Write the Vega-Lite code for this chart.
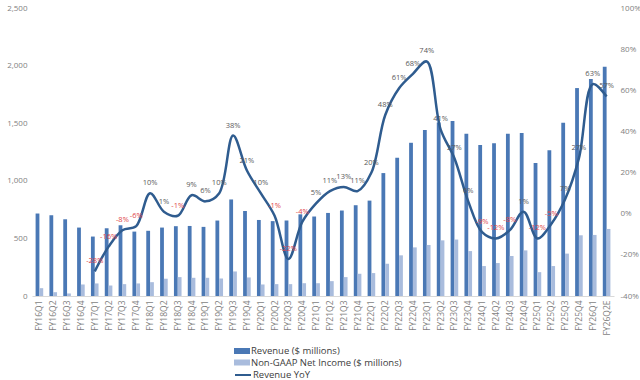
{
  "$schema": "https://vega.github.io/schema/vega-lite/v6.json",
  "width": 582,
  "height": 288,
  "autosize": {"type": "none"},
  "padding": {"left": 32, "top": 8, "right": 26, "bottom": 84},
  "background": "#ffffff",
  "config": {
    "view": {"stroke": null},
    "font": "Open Sans",
    "locale": {"number": {"decimal": ".", "thousands": ",", "grouping": [3], "currency": ["$", ""], "minus": "-", "percent": "%"}},
    "axis": {"labelColor": "#7F7F7F", "labelFontSize": 8, "ticks": false, "grid": false, "title": null}
  },
  "data": {
    "values": [
      {"q": "FY16Q1", "revenue": 716, "income": 68, "yoy": null},
      {"q": "FY16Q2", "revenue": 701, "income": 33, "yoy": null},
      {"q": "FY16Q3", "revenue": 666, "income": 22, "yoy": null},
      {"q": "FY16Q4", "revenue": 594, "income": 100, "yoy": null},
      {"q": "FY17Q1", "revenue": 516, "income": 109, "yoy": -0.28},
      {"q": "FY17Q2", "revenue": 588, "income": 91, "yoy": -0.16},
      {"q": "FY17Q3", "revenue": 614, "income": 103, "yoy": -0.08},
      {"q": "FY17Q4", "revenue": 559, "income": 109, "yoy": -0.06},
      {"q": "FY18Q1", "revenue": 566, "income": 120, "yoy": 0.10},
      {"q": "FY18Q2", "revenue": 594, "income": 150, "yoy": 0.01},
      {"q": "FY18Q3", "revenue": 606, "income": 164, "yoy": -0.01},
      {"q": "FY18Q4", "revenue": 608, "income": 158, "yoy": 0.09},
      {"q": "FY19Q1", "revenue": 600, "income": 158, "yoy": 0.06},
      {"q": "FY19Q2", "revenue": 655, "income": 152, "yoy": 0.10},
      {"q": "FY19Q3", "revenue": 838, "income": 213, "yoy": 0.38},
      {"q": "FY19Q4", "revenue": 738, "income": 161, "yoy": 0.21},
      {"q": "FY20Q1", "revenue": 660, "income": 100, "yoy": 0.10},
      {"q": "FY20Q2", "revenue": 650, "income": 103, "yoy": -0.01},
      {"q": "FY20Q3", "revenue": 656, "income": 103, "yoy": -0.22},
      {"q": "FY20Q4", "revenue": 709, "income": 111, "yoy": -0.04},
      {"q": "FY21Q1", "revenue": 690, "income": 111, "yoy": 0.05},
      {"q": "FY21Q2", "revenue": 721, "income": 129, "yoy": 0.11},
      {"q": "FY21Q3", "revenue": 742, "income": 164, "yoy": 0.13},
      {"q": "FY21Q4", "revenue": 788, "income": 193, "yoy": 0.11},
      {"q": "FY22Q1", "revenue": 828, "income": 199, "yoy": 0.20},
      {"q": "FY22Q2", "revenue": 1067, "income": 280, "yoy": 0.48},
      {"q": "FY22Q3", "revenue": 1200, "income": 353, "yoy": 0.61},
      {"q": "FY22Q4", "revenue": 1330, "income": 422, "yoy": 0.68},
      {"q": "FY23Q1", "revenue": 1440, "income": 443, "yoy": 0.74},
      {"q": "FY23Q2", "revenue": 1505, "income": 483, "yoy": 0.41},
      {"q": "FY23Q3", "revenue": 1520, "income": 490, "yoy": 0.27},
      {"q": "FY23Q4", "revenue": 1409, "income": 390, "yoy": 0.06},
      {"q": "FY24Q1", "revenue": 1311, "income": 260, "yoy": -0.09},
      {"q": "FY24Q2", "revenue": 1326, "income": 286, "yoy": -0.12},
      {"q": "FY24Q3", "revenue": 1409, "income": 347, "yoy": -0.08},
      {"q": "FY24Q4", "revenue": 1416, "income": 396, "yoy": 0.01},
      {"q": "FY25Q1", "revenue": 1154, "income": 207, "yoy": -0.12},
      {"q": "FY25Q2", "revenue": 1265, "income": 260, "yoy": -0.05},
      {"q": "FY25Q3", "revenue": 1503, "income": 368, "yoy": 0.07},
      {"q": "FY25Q4", "revenue": 1805, "income": 527, "yoy": 0.27},
      {"q": "FY26Q1", "revenue": 1883, "income": 530, "yoy": 0.63},
      {"q": "FY26Q2E", "revenue": 1990, "income": 582, "yoy": 0.57}
    ]
  },
  "encoding": {
    "x": {
      "field": "q",
      "type": "nominal",
      "sort": null,
      "scale": {"paddingInner": 0.45, "paddingOuter": 0.26},
      "axis": {"labelAngle": -90, "labelPadding": 4, "domain": true, "domainColor": "#D9D9D9", "domainWidth": 1, "labelFontSize": 8.5, "labelColor": "#7F7F7F"}
    }
  },
  "layer": [
    {
      "transform": [{"fold": ["revenue", "income"], "as": ["series", "amount"]}],
      "mark": {"type": "bar"},
      "encoding": {
        "xOffset": {"field": "series", "type": "nominal", "sort": ["revenue", "income"], "scale": {"paddingInner": 0, "paddingOuter": 0}},
        "y": {
          "field": "amount",
          "type": "quantitative",
          "scale": {"domain": [0, 2500], "nice": false},
          "axis": {"orient": "left", "values": [0, 500, 1000, 1500, 2000, 2500], "format": ",.0f", "domain": false, "labelPadding": 5}
        },
        "color": {
          "field": "series",
          "type": "nominal",
          "scale": {"domain": ["revenue", "income"], "range": ["#4A78B5", "#A9BCDD"]},
          "legend": {
            "orient": "none",
            "legendX": 205,
            "legendY": 338,
            "direction": "vertical",
            "title": null,
            "padding": 0,
            "symbolType": "M-1.6,-0.6H1.6V0.6H-1.6Z",
            "symbolSize": 100,
            "symbolStrokeWidth": 0,
            "labelOffset": 4,
            "rowPadding": 1.5,
            "labelFont": "Open Sans",
            "labelFontSize": 9.5,
            "labelColor": "#404040",
            "labelExpr": "datum.label == 'revenue' ? 'Revenue ($ millions)' : 'Non-GAAP Net Income ($ millions)'"
          }
        }
      }
    },
    {
      "transform": [{"filter": "datum.yoy != null"}],
      "encoding": {
        "y": {
          "field": "yoy",
          "type": "quantitative",
          "scale": {"domain": [-0.4, 1.0], "nice": false},
          "axis": {"orient": "right", "values": [-0.4, -0.2, 0, 0.2, 0.4, 0.6, 0.8, 1.0], "format": ".0%", "domain": false, "labelPadding": 6}
        }
      },
      "layer": [
        {
          "mark": {"type": "line", "interpolate": "catmull-rom", "strokeWidth": 2.5},
          "encoding": {
            "stroke": {
              "datum": "Revenue YoY",
              "scale": {"range": ["#2F5C8F"]},
              "legend": {
                "orient": "none",
                "legendX": 202,
                "legendY": 358,
                "title": null,
                "padding": 0,
                "symbolType": "stroke",
                "symbolSize": 256,
                "symbolStrokeWidth": 2,
                "labelOffset": 1,
                "labelFont": "Open Sans",
                "labelFontSize": 9.5,
                "labelColor": "#404040"
              }
            }
          }
        },
        {
          "mark": {"type": "text", "dy": -10, "fontSize": 7.5, "font": "Open Sans", "baseline": "middle"},
          "encoding": {
            "text": {"field": "yoy", "format": ".0%"},
            "color": {"condition": {"test": "datum.yoy < 0", "value": "#E0474C"}, "value": "#595959"}
          }
        }
      ]
    }
  ],
  "resolve": {"scale": {"y": "independent", "color": "independent"}}
}
